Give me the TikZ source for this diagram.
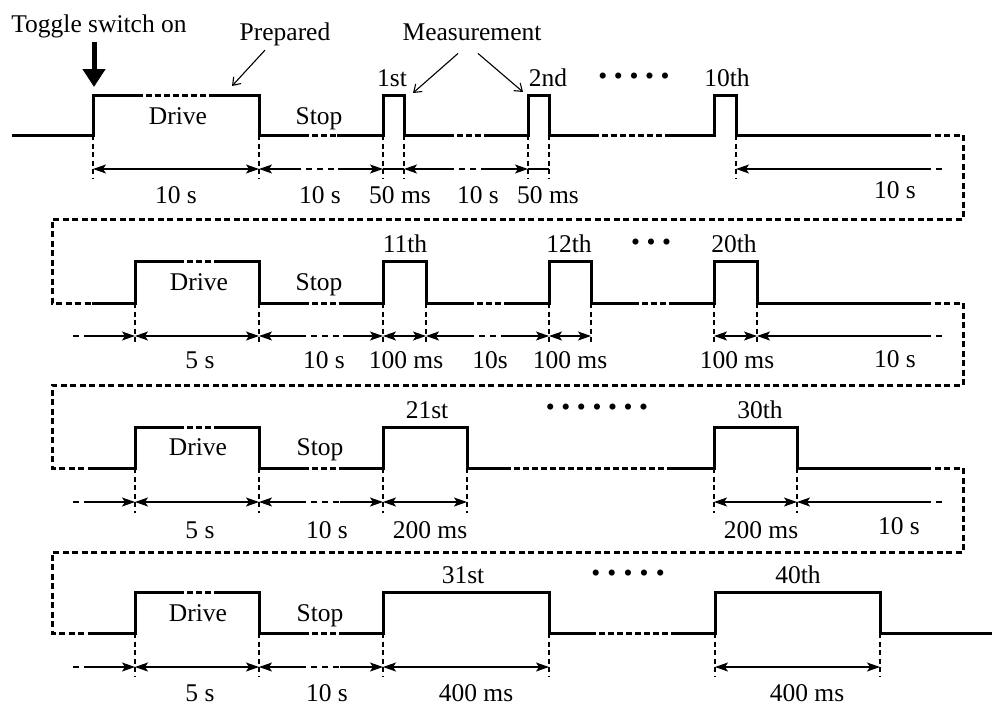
\documentclass[tikz,border=0pt]{standalone}
\usepackage{fontspec}
\setmainfont{Liberation Serif}
\usetikzlibrary{arrows.meta}

\begin{document}
\begin{tikzpicture}[
  x=1pt, y=-1pt,
  every node/.style={font=\fontsize{25.5}{30}\selectfont, inner sep=0pt},
  label/.style={anchor=base},
  dotrow/.style={anchor=base},
  wave/.style={line width=3pt, line join=miter},
  gap/.style={wave, dash pattern=on 5.5pt off 3.5pt},
  frame/.style={line width=3pt, dash pattern=on 6pt off 3.5pt},
  guide/.style={line width=1.1pt, dash pattern=on 5pt off 3.5pt},
  span/.style={line width=1.2pt},
  gapspan/.style={span, dash pattern=on 6pt off 5pt},
  both/.style={span, {Stealth[length=13pt, width=9pt, inset=3pt]}-{Stealth[length=13pt, width=9pt, inset=3pt]}},
  tostart/.style={span, {Stealth[length=13pt, width=9pt, inset=3pt]}-},
  toend/.style={span, -{Stealth[length=13pt, width=9pt, inset=3pt]}},
  pointer/.style={line width=1.1pt, -{Straight Barb[length=7pt, width=10pt]}},
  bigarrow/.style={line width=5pt, -{Triangle[length=18pt, width=22pt]}}
]
  \useasboundingbox (0,0) rectangle (992,707);

  \node[label] (toggle) at (99,32) {Toggle switch on};
  \node[label] (prepared) at (285,40) {Prepared};
  \node[label] (measure) at (472,40) {Measurement};
  \coordinate (switchon) at (94,87);
  \coordinate (preptip) at (232,86);
  \coordinate (meas1) at (413,93);
  \coordinate (meas2) at (523,92);
  \draw[bigarrow] ([xshift=-5pt, yshift=-4.5pt]toggle.south) -- (switchon);
  \draw[pointer] ([xshift=-20pt, yshift=-4.5pt]prepared.south) -- (preptip);
  \draw[pointer] ([xshift=-14pt, yshift=-13pt]measure.south) -- (meas1);
  \draw[pointer] ([xshift=6pt, yshift=-13pt]measure.south) -- (meas2);

  \draw[wave] (12,135) -- (93,135) -- (93,95) -- (137,95);
  \draw[gap] (137,95) -- (215,95);
  \draw[wave] (215,95) -- (259,95) -- (259,135) -- (303,135);
  \draw[gap] (303,135) -- (337,135);
  \draw[wave] (337,135) -- (383,135) -- (383,95) -- (404,95) -- (404,135) -- (448,135);
  \draw[gap] (448,135) -- (485,135);
  \draw[wave] (485,135) -- (528,135) -- (528,95) -- (549,95) -- (549,135) -- (593,135);
  \draw[gap] (593,135) -- (667,135);
  \draw[wave] (667,135) -- (714,135) -- (714,95) -- (736,95) -- (736,135) -- (925,135);
  \draw[frame] (925,135) -- (963,135) -- (963,219) -- (52,219) -- (52,303) -- (92,303);
  \node[label] (drive1) at (178,124) {Drive};
  \node[label] (stop1) at (319,124) {Stop};
  \node[label] (m1) at (392,86) {1st};
  \node[label] (m2) at (548,86) {2nd};
  \node[dotrow] (dots1) at (634,84.5) {•\hskip6.6pt•\hskip6.6pt•\hskip6.6pt•\hskip6.6pt•};
  \node[label] (m10) at (727,86) {10th};
  \draw[guide] (93,135) -- (93,178) (259,135) -- (259,178) (383,135) -- (383,178)
    (404,135) -- (404,178) (528,135) -- (528,178) (549,135) -- (549,178) (736,135) -- (736,178);
  \draw[both] (93,169) -- (259,169);
  \draw[tostart] (259,169) -- (295,169);
  \draw[gapspan] (295,169) -- (338,169);
  \draw[toend] (338,169) -- (383,169);
  \draw[span] (383,169) -- (404,169);
  \draw[tostart] (404,169) -- (448,169);
  \draw[gapspan] (448,169) -- (485,169);
  \draw[toend] (485,169) -- (528,169);
  \draw[span] (528,169) -- (549,169);
  \draw[tostart] (736,169) -- (925,169);
  \draw[gapspan] (925,169) -- (943,169);
  \node[label] (t1a) at (176,203) {10 s};
  \node[label] (t1b) at (320,203) {10 s};
  \node[label] (t1c) at (400,203) {50 ms};
  \node[label] (t1d) at (478,203) {10 s};
  \node[label] (t1e) at (548,203) {50 ms};
  \node[label] (t1f) at (895,198) {10 s};

  \draw[wave] (92,303) -- (135,303) -- (135,261) -- (178,261);
  \draw[gap] (178,261) -- (215,261);
  \draw[wave] (215,261) -- (259,261) -- (259,303) -- (303,303);
  \draw[gap] (303,303) -- (340,303);
  \draw[wave] (340,303) -- (383,303) -- (383,261) -- (426,261) -- (426,303) -- (468,303);
  \draw[gap] (468,303) -- (505,303);
  \draw[wave] (505,303) -- (549,303) -- (549,261) -- (591,261) -- (591,303) -- (633,303);
  \draw[gap] (633,303) -- (672,303);
  \draw[wave] (672,303) -- (714,303) -- (714,261) -- (757,261) -- (757,303) -- (925,303);
  \draw[frame] (925,303) -- (963,303) -- (963,385) -- (52,385) -- (52,468) -- (92,468);
  \node[label] (drive2) at (199,290) {Drive};
  \node[label] (stop2) at (319,290) {Stop};
  \node[label] (m11) at (405,252) {11th};
  \node[label] (m12) at (569,252) {12th};
  \node[dotrow] (dots2) at (651,250.5) {•\hskip6.6pt•\hskip6.6pt•};
  \node[label] (m20) at (734,252) {20th};
  \draw[guide] (135,303) -- (135,345) (259,303) -- (259,345) (383,303) -- (383,345)
    (426,303) -- (426,345) (549,303) -- (549,345) (591,303) -- (591,345)
    (714,303) -- (714,345) (757,303) -- (757,345);
  \draw[gapspan] (73,336) -- (90,336);
  \draw[toend] (90,336) -- (135,336);
  \draw[both] (135,336) -- (259,336);
  \draw[tostart] (259,336) -- (300,336);
  \draw[gapspan] (300,336) -- (343,336);
  \draw[toend] (343,336) -- (383,336);
  \draw[both] (383,336) -- (426,336);
  \draw[tostart] (426,336) -- (468,336);
  \draw[gapspan] (468,336) -- (505,336);
  \draw[toend] (505,336) -- (549,336);
  \draw[both] (549,336) -- (591,336);
  \draw[both] (714,336) -- (757,336);
  \draw[tostart] (757,336) -- (925,336);
  \draw[gapspan] (925,336) -- (943,336);
  \node[label] (t2a) at (200,368) {5 s};
  \node[label] (t2b) at (324,368) {10 s};
  \node[label] (t2c) at (406,368) {100 ms};
  \node[label] (t2d) at (490,368) {10s};
  \node[label] (t2e) at (570,368) {100 ms};
  \node[label] (t2f) at (737,368) {100 ms};
  \node[label] (t2g) at (895,367) {10 s};

  \draw[wave] (92,468) -- (135,468) -- (135,427) -- (178,427);
  \draw[gap] (178,427) -- (215,427);
  \draw[wave] (215,427) -- (259,427) -- (259,468) -- (303,468);
  \draw[gap] (303,468) -- (340,468);
  \draw[wave] (340,468) -- (383,468) -- (383,427) -- (467,427) -- (467,468) -- (505,468);
  \draw[gap] (505,468) -- (670,468);
  \draw[wave] (670,468) -- (714,468) -- (714,427) -- (797,427) -- (797,468) -- (925,468);
  \draw[frame] (925,468) -- (963,468) -- (963,552) -- (52,552) -- (52,633) -- (92,633);
  \node[label] (drive3) at (198,455) {Drive};
  \node[label] (stop3) at (320,455) {Stop};
  \node[label] (m21) at (427,418) {21st};
  \node[dotrow] (dots3) at (597,415.5) {•\hskip6.6pt•\hskip6.6pt•\hskip6.6pt•\hskip6.6pt•\hskip6.6pt•\hskip6.6pt•};
  \node[label] (m30) at (760,418) {30th};
  \draw[guide] (135,468) -- (135,513) (259,468) -- (259,513) (383,468) -- (383,513)
    (467,468) -- (467,513) (714,468) -- (714,513) (797,468) -- (797,513);
  \draw[gapspan] (73,502) -- (90,502);
  \draw[toend] (90,502) -- (135,502);
  \draw[both] (135,502) -- (259,502);
  \draw[tostart] (259,502) -- (300,502);
  \draw[gapspan] (300,502) -- (340,502);
  \draw[toend] (340,502) -- (383,502);
  \draw[both] (383,502) -- (467,502);
  \draw[both] (714,502) -- (797,502);
  \draw[tostart] (797,502) -- (925,502);
  \draw[gapspan] (925,502) -- (943,502);
  \node[label] (t3a) at (200,538) {5 s};
  \node[label] (t3b) at (327,538) {10 s};
  \node[label] (t3c) at (430,538) {200 ms};
  \node[label] (t3d) at (761,538) {200 ms};
  \node[label] (t3e) at (899,534) {10 s};

  \draw[wave] (92,633) -- (135,633) -- (135,592) -- (178,592);
  \draw[gap] (178,592) -- (215,592);
  \draw[wave] (215,592) -- (259,592) -- (259,633) -- (303,633);
  \draw[gap] (303,633) -- (340,633);
  \draw[wave] (340,633) -- (383,633) -- (383,592) -- (549,592) -- (549,633) -- (590,633);
  \draw[gap] (590,633) -- (672,633);
  \draw[wave] (672,633) -- (715,633) -- (715,592) -- (880,592) -- (880,633) -- (992,633);
  \node[label] (drive4) at (198,621) {Drive};
  \node[label] (stop4) at (320,621) {Stop};
  \node[label] (m31) at (463,583) {31st};
  \node[dotrow] (dots4) at (628,581.5) {•\hskip7.2pt•\hskip7.2pt•\hskip7.2pt•\hskip7.2pt•};
  \node[label] (m40) at (798,583) {40th};
  \draw[guide] (135,633) -- (135,677) (259,633) -- (259,677) (383,633) -- (383,677)
    (549,633) -- (549,677) (715,633) -- (715,677) (880,633) -- (880,677);
  \draw[gapspan] (73,667) -- (90,667);
  \draw[toend] (90,667) -- (135,667);
  \draw[both] (135,667) -- (259,667);
  \draw[tostart] (259,667) -- (300,667);
  \draw[gapspan] (300,667) -- (340,667);
  \draw[toend] (340,667) -- (383,667);
  \draw[both] (383,667) -- (549,667);
  \draw[both] (715,667) -- (880,667);
  \node[label] (t4a) at (200,701) {5 s};
  \node[label] (t4b) at (327,701) {10 s};
  \node[label] (t4c) at (476,701) {400 ms};
  \node[label] (t4d) at (807,701) {400 ms};
\end{tikzpicture}
\end{document}
